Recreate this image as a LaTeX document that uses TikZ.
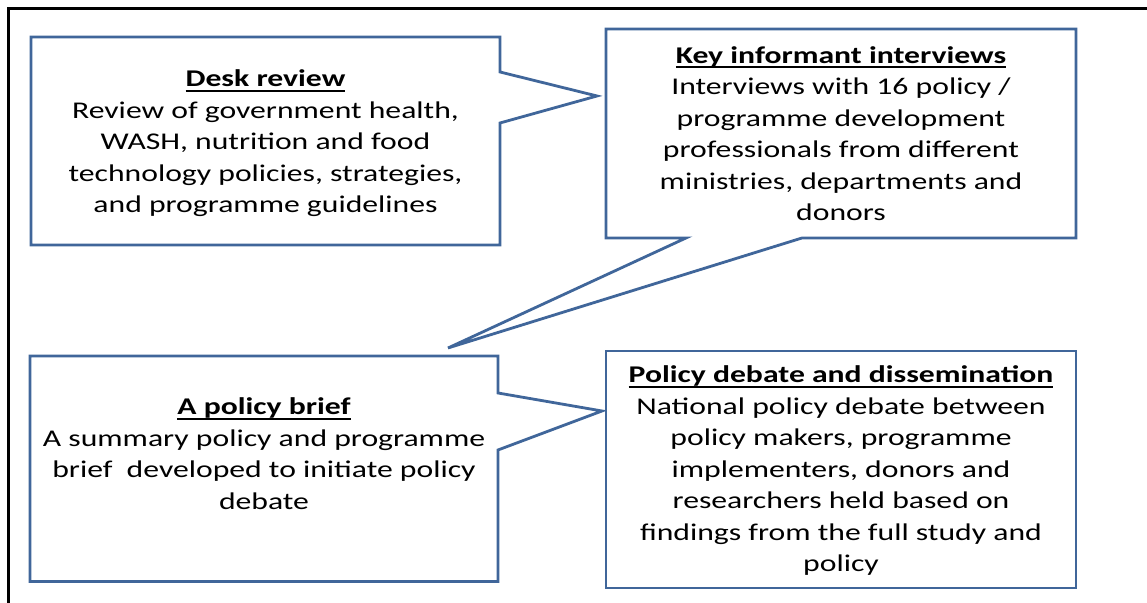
\documentclass[tikz,border=0pt]{standalone}
\usepackage{fontspec}
\setmainfont{Carlito}[FakeStretch=1.32]
\usepackage{tikz}
\definecolor{CBlue}{HTML}{40669A}
\newcommand\ulin[1]{\setbox0\hbox{#1}\rlap{\rule[-2.3pt]{\wd0}{0.9pt}}\box0}
\tikzset{
  callout/.style={draw=CBlue,line width=1.4pt,line join=miter,fill=white},
  calltext/.style={anchor=base,align=center,inner sep=0pt,font=\fontsize{12}{15.75}\selectfont}
}

\begin{document}
\begin{tikzpicture}[x=0.5pt,y=0.5pt]
\path[use as bounding box] (0,0) rectangle (1147,603);
\fill[white] (0,0) rectangle (1147,603);
\draw[black,line width=1.5pt] (8,0) -- (8,594) -- (1147,594);
% desk review
\draw[callout] (31,566) -- (500,566) -- (500,531) -- (597,507) -- (500,480) -- (500,358) -- (31,358) -- cycle;
\node[calltext] (deskreview) at (265.5,390) {\textbf{\ulin{Desk review}}\\Review of government health,\\WASH, nutrition and food\\technology policies, strategies,\\and programme guidelines};
% key informant interviews
\draw[callout] (606,574) -- (1076,574) -- (1076,365) -- (802,365) -- (448,255) -- (686,365) -- (606,365) -- cycle;
\node[calltext] (interviews) at (841,382) {\textbf{\ulin{Key informant interviews}}\\Interviews with 16 policy /\\programme development\\professionals from different\\ministries, departments and\\donors};
% policy brief
\draw[callout] (30,247) -- (498,247) -- (498,210) -- (602,192) -- (498,153) -- (498,21.5) -- (30,21.5) -- cycle;
\node[calltext] (policybrief) at (264,93.5) {\textbf{\ulin{A policy brief}}\\A summary policy and programme\\brief~~developed to initiate policy\\debate};
% policy debate
\draw[callout] (606,252) rectangle (1076,15);
\node[calltext] (debate) at (841,31) {\textbf{\ulin{Policy debate and dissemination}}\\National policy debate between\\policy makers, programme\\implementers, donors and\\researchers held based on\\findings from the full study and\\policy};
\end{tikzpicture}
\end{document}
